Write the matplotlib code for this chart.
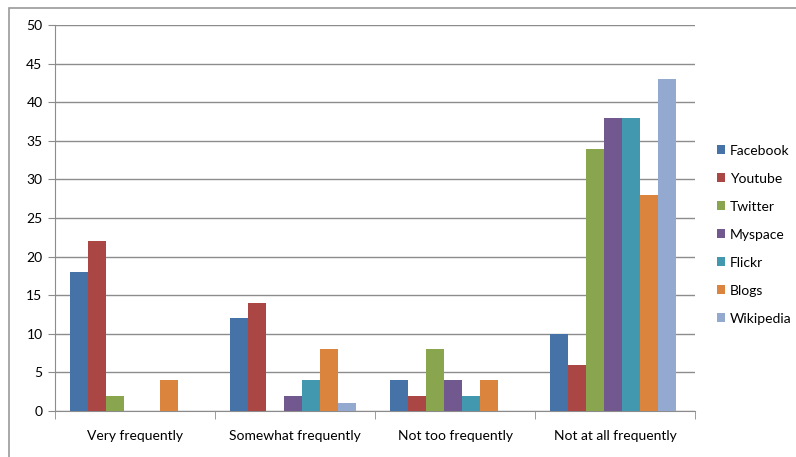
import matplotlib.pyplot as plt
import numpy as np
from matplotlib.patches import Rectangle

categories = ['Very frequently', 'Somewhat frequently', 'Not too frequently', 'Not at all frequently']
series = ['Facebook', 'Youtube', 'Twitter', 'Myspace', 'Flickr', 'Blogs', 'Wikipedia']
facebook = [18, 12, 4, 10]
youtube = [22, 14, 2, 6]
twitter = [2, 0, 8, 34]
myspace = [0, 2, 4, 38]
flickr = [0, 4, 2, 38]
blogs = [4, 8, 4, 28]
wikipedia = [0, 1, 0, 43]
colors = ['#4572a7', '#aa4643', '#89a54e', '#71588f', '#4198af', '#db843d', '#93a9cf']

values = [facebook, youtube, twitter, myspace, flickr, blogs, wikipedia]

plt.rcParams['font.family'] = ['Lato', 'DejaVu Sans']

fig = plt.figure(figsize=(7.96, 4.57), dpi=100)
# outer chart border (top and left visible)
fig.patches.append(Rectangle((9 / 796, -0.1), 1.0, 1 - 8 / 457 + 0.1,
                             transform=fig.transFigure, fill=False,
                             edgecolor='#9a9a9a', linewidth=1.2))

ax = fig.add_axes([55 / 796, 46 / 457, 640 / 796, 386 / 457])

x = np.arange(len(categories))
w = 18 / 160
for i, (name, vals) in enumerate(zip(series, values)):
    ax.bar(x - 3.1 * w + i * w, vals, width=w, color=colors[i], label=name, zorder=3)

ax.set_xlim(-0.5, 3.5)
ax.set_ylim(0, 50)
ax.set_yticks(range(0, 51, 5))
ax.yaxis.grid(True, color='#8c8c8c', linewidth=1, zorder=0)

ax.set_xticks(x)
ax.set_xticklabels(categories, fontsize=10)
ax.tick_params(axis='x', length=0, pad=14)
ax.set_xticks(np.arange(-0.5, 4, 1), minor=True)
ax.tick_params(axis='x', which='minor', length=6, color='#8c8c8c')
ax.tick_params(axis='y', length=5, color='#8c8c8c', labelsize=10, pad=4)

for s in ['top', 'right']:
    ax.spines[s].set_visible(False)
for s in ['left', 'bottom']:
    ax.spines[s].set_color('#8c8c8c')

ax.legend(loc='center left', bbox_to_anchor=(1.015, 0.457), frameon=False,
          fontsize=10, handlelength=0.6, handleheight=0.6, handletextpad=0.3,
          labelspacing=1.15)

fig.savefig('out.png', dpi=100)
